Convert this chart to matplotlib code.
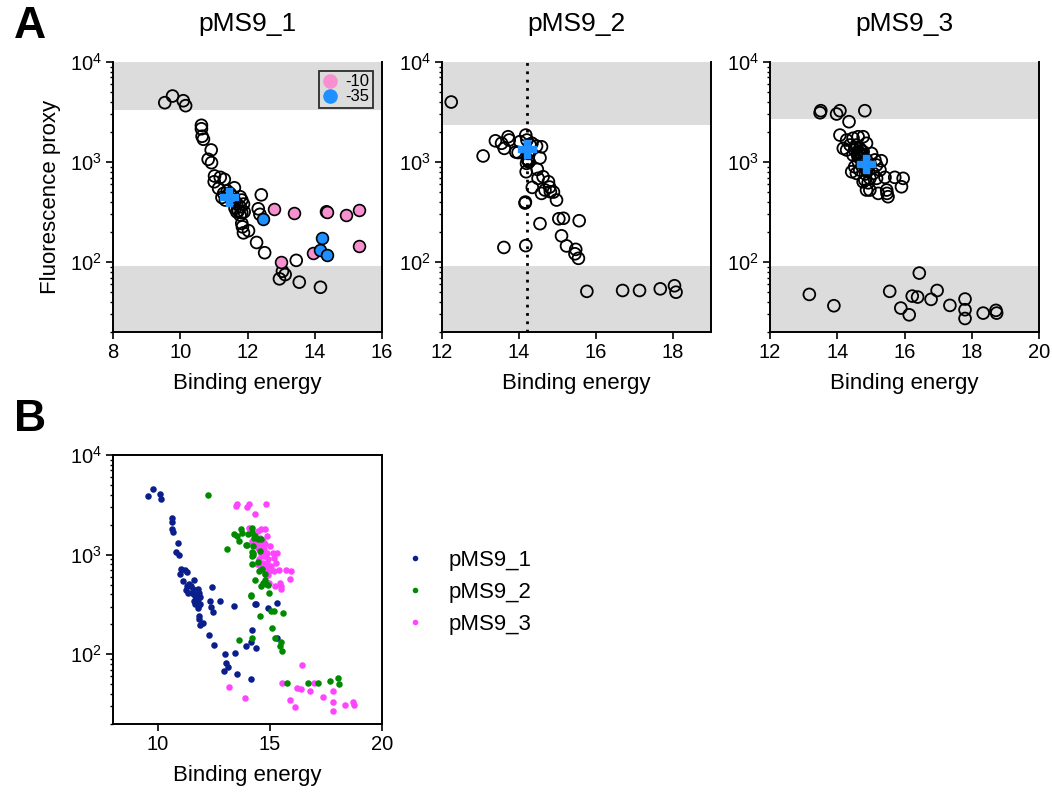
import math
import matplotlib
matplotlib.use("Agg")
import matplotlib.pyplot as plt
from matplotlib import ticker
from matplotlib.lines import Line2D

plt.rcParams["font.family"] = ["Liberation Sans", "DejaVu Sans"]
plt.rcParams["mathtext.fontset"] = "custom"
plt.rcParams["mathtext.rm"] = "Liberation Sans"
plt.rcParams["mathtext.it"] = "Liberation Sans:italic"
plt.rcParams["mathtext.bf"] = "Liberation Sans:bold"

# ---- pMS9_1 : binding energy vs fluorescence proxy ----
p1_energy = [9.54, 9.77, 10.09, 10.16, 10.63, 10.63, 10.65, 10.69, 10.92, 10.83,
             10.93, 11.02, 11.19, 11.31, 11.01, 11.14, 11.61, 11.29, 11.40, 11.48,
             11.58, 11.78, 11.83, 11.68, 11.78, 11.88, 11.63, 11.73, 11.83, 11.78,
             11.90, 11.53, 11.63, 11.24, 11.34, 11.68, 11.83, 11.85, 12.03, 11.88,
             12.41, 12.32, 12.37, 12.27, 12.51, 13.45, 13.04, 13.12, 12.95, 13.54,
             14.17, 14.35]
p1_fluor = [3920, 4570, 4100, 3660, 2330, 2150, 1810, 1690, 1320, 1065,
            985, 725, 703, 671, 635, 546, 553, 486, 513, 486,
            450, 450, 417, 386, 357, 380, 344, 326, 311, 295,
            318, 417, 401, 443, 417, 318, 244, 225, 206, 196,
            470, 341, 300, 157, 124, 104, 81, 75, 68, 63,
            56, 318]
# promoter element variants of pMS9_1
m10_energy = [12.78, 13.38, 14.37, 14.92, 15.31, 15.33, 13.94, 12.99]
m10_fluor = [339, 307, 320, 295, 329, 146, 122, 101]
m35_energy = [12.47, 14.21, 14.15, 14.37]
m35_fluor = [269, 175, 132, 117]

# ---- pMS9_2 ----
p2_energy = [12.24, 13.07, 13.39, 13.55, 13.62, 13.72, 13.75, 13.92, 13.98, 14.03,
             14.18, 14.21, 14.34, 14.29, 14.46, 14.59, 14.24, 14.24, 14.20, 14.26,
             14.22, 14.55, 14.48, 14.19, 14.50, 14.63, 14.77, 14.82, 14.68, 14.59,
             14.35, 14.98, 14.90, 14.80, 14.16, 14.17, 14.55, 15.04, 15.16, 15.57,
             15.11, 15.24, 15.48, 15.46, 15.55, 13.61, 14.18, 15.77, 16.70, 17.14,
             17.68, 18.05, 18.09]
p2_fluor = [3980, 1150, 1630, 1540, 1370, 1790, 1660, 1260, 1245, 1600,
            1860, 1660, 1540, 1480, 1445, 1420, 1220, 1050, 970, 1000,
            1070, 1100, 845, 800, 687, 713, 635, 505, 525, 486,
            558, 417, 501, 562, 389, 398, 242, 271, 274, 259,
            183, 145, 134, 121, 109, 140, 146, 51, 52, 52,
            54, 58, 50]

# ---- pMS9_3 ----
p3_energy = [13.49, 13.51, 13.98, 14.08, 14.35, 14.82,
             14.08, 14.28, 14.47, 14.62, 14.77, 14.87, 14.38, 14.57, 14.52, 14.67,
             14.77, 15.02, 14.28, 14.18, 14.47, 14.62, 14.87, 15.12, 15.31, 15.17,
             14.52, 14.67, 14.43, 14.57, 14.87, 15.07, 15.27, 14.97, 15.17, 15.42,
             15.71, 15.96, 15.91, 14.82, 14.77, 14.87, 14.97, 15.22, 15.47, 15.48,
             15.51, 14.65, 14.70, 14.72, 14.60, 14.75, 14.68, 14.80, 14.90,
             14.55, 14.62, 14.74, 14.84, 14.92,
             13.17, 13.90, 15.56, 16.44, 16.23, 16.39, 15.89, 16.14, 16.79, 16.97,
             17.35, 17.80, 17.80, 17.80, 18.34, 18.72, 18.74]
p3_fluor = [3110, 3260, 3020, 3260, 2530, 3260,
            1860, 1660, 1730, 1790, 1790, 1540, 1480, 1480, 1320, 1370,
            1270, 1220, 1320, 1370, 1175, 1130, 1050, 1050, 1030, 933,
            897, 832, 800, 771, 832, 771, 832, 687, 687, 703,
            703, 687, 566, 661, 635, 525, 525, 486, 525, 486,
            450, 1250, 1180, 1300, 1200, 1150, 1100, 1000, 900,
            1400, 1020, 960, 760, 620,
            47.5, 36.6, 51, 77.6, 45.7, 44.7, 34.7, 29.7, 42.4, 52,
            36.9, 42.7, 33.4, 27.3, 30.9, 32.9, 30.9]

# reference promoter of each construct
ref_energy = [11.44, 14.20, 14.85]
ref_fluor = [447, 1340, 948]

titles = ["pMS9_1", "pMS9_2", "pMS9_3"]
xlims = [(8, 16), (12, 19), (12, 20)]
xticks = [[8, 10, 12, 14, 16], [12, 14, 16, 18], [12, 14, 16, 18, 20]]
upper_band = [3300, 2350, 2700]
lower_band = 91
ylim = (20, 1e4)

band_color = "#dcdcdc"
pink = "#f78fd0"
blue = "#1e90ff"
series_colors = ["#0a1e8c", "#008a00", "#ff44ff"]
series_z = [3, 5, 4]

W, H = 1052, 796
fig = plt.figure(figsize=(W / 100, H / 100), dpi=100)


def px_axes(x0, y0, x1, y1):
    return fig.add_axes([x0 / W, 1 - y1 / H, (x1 - x0) / W, (y1 - y0) / H])


def log_format(v, pos):
    e = int(round(math.log10(v)))
    return r"$\mathregular{10^{%d}}$" % e


def style_axes(ax, box=False):
    ax.set_yscale("log")
    ax.set_ylim(*ylim)
    ax.yaxis.set_major_locator(ticker.LogLocator(base=10, numticks=10))
    ax.yaxis.set_minor_locator(ticker.LogLocator(base=10, subs=range(2, 10), numticks=10))
    ax.yaxis.set_major_formatter(ticker.FuncFormatter(log_format))
    ax.yaxis.set_minor_formatter(ticker.NullFormatter())
    for s in ax.spines.values():
        s.set_linewidth(1.4)
    if not box:
        ax.spines["top"].set_visible(False)
    ax.tick_params(which="major", direction="out", length=5, width=1.2, labelsize=14.5, pad=3)
    ax.tick_params(which="minor", direction="out", length=2.5, width=1.0)
    ax.set_facecolor("white")


panel_x = [(113, 382), (442, 711), (770, 1039)]
energies = [p1_energy, p2_energy, p3_energy]
fluors = [p1_fluor, p2_fluor, p3_fluor]

axes_a = []
for i in range(3):
    ax = px_axes(panel_x[i][0], 62, panel_x[i][1], 332)
    style_axes(ax)
    ax.set_xlim(*xlims[i])
    ax.set_xticks(xticks[i])
    ax.axhspan(upper_band[i], ylim[1], color=band_color, lw=0, zorder=0)
    ax.axhspan(ylim[0], lower_band, color=band_color, lw=0, zorder=0)
    ax.scatter(energies[i], fluors[i], s=72, facecolors="none", edgecolors="black",
               linewidths=1.3, zorder=3, clip_on=False)
    ax.set_xlabel("Binding energy", fontsize=16, labelpad=8)
    fig.text((panel_x[i][0] + panel_x[i][1]) / 2 / W, 1 - 24 / H, titles[i],
             fontsize=19, ha="center", va="center")
    axes_a.append(ax)

ax1 = axes_a[0]
ax1.scatter(m10_energy, m10_fluor, s=72, facecolors=pink, edgecolors="black",
            linewidths=1.2, zorder=4)
ax1.scatter(m35_energy, m35_fluor, s=72, facecolors=blue, edgecolors="black",
            linewidths=1.2, zorder=4)
ax1.set_ylabel("Fluorescence proxy", fontsize=16, labelpad=6)
leg_handles = [Line2D([], [], ls="none", marker="o", ms=10.5, mfc=pink, mec="none"),
               Line2D([], [], ls="none", marker="o", ms=10.5, mfc=blue, mec="none")]
leg = ax1.legend(leg_handles, ["-10", "-35"], loc="upper right", fontsize=12,
                 frameon=True, fancybox=False, handletextpad=0.4, borderpad=0.2,
                 labelspacing=0.0, handlelength=1.0, borderaxespad=0.55)
leg.get_frame().set_facecolor("none")
leg.get_frame().set_edgecolor("black")
leg.get_frame().set_linewidth(1.3)

# dotted guide at the reference binding energy of pMS9_2
axes_a[1].axvline(ref_energy[1], color="black", ls=(0, (1, 2.0)), lw=2.0, zorder=2)

for i, ax in enumerate(axes_a):
    ax.plot(ref_energy[i], ref_fluor[i], marker="P", ms=13, mfc=blue, mec=blue,
            ls="none", zorder=6)

# ---- panel B: all constructs overlaid ----
axb = px_axes(113, 455, 382, 724)
style_axes(axb, box=True)
axb.set_xlim(8, 20)
axb.set_xticks([10, 15, 20])
handles = []
for i in range(3):
    axb.scatter(energies[i], fluors[i], s=22, color=series_colors[i], lw=0, zorder=series_z[i])
    handles.append(Line2D([], [], ls="none", marker="o", ms=4, mfc=series_colors[i],
                          mec="none"))
for e, f in [(m10_energy, m10_fluor), (m35_energy, m35_fluor)]:
    axb.scatter(e, f, s=22, color=series_colors[0], lw=0, zorder=series_z[0])
axb.set_xlabel("Binding energy", fontsize=16, labelpad=8)
axb.legend(handles, titles, loc="center left", bbox_to_anchor=(1.0, 0.49), frameon=False,
           fontsize=16, handlelength=1.2, handletextpad=0.9, labelspacing=0.5)

fig.text(14 / W, 1 - 26 / H, "A", fontsize=32, fontweight="bold", ha="left", va="center")
fig.text(14 / W, 1 - 420 / H, "B", fontsize=32, fontweight="bold", ha="left", va="center")

fig.savefig("out.png", dpi=100, facecolor="white")
